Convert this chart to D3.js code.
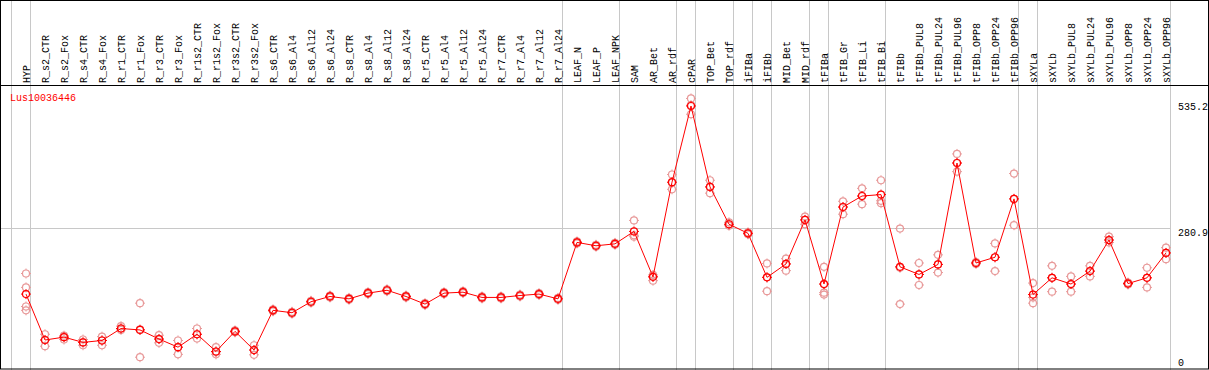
<!DOCTYPE html>
<html>
<head>
<meta charset="UTF-8">
<title>Lus10036446</title>
<script src="https://d3js.org/d3.v7.min.js"></script>
<style>
    body { margin: 0; padding: 0; background: #fff; }
    svg { display: block; }
    text { font-family: "Liberation Mono", "DejaVu Sans Mono", monospace; font-size: 10px; }
</style>
</head>
<body>
<div id="chart"></div>
<script>
const categories = ["HYP", "R_s2_CTR", "R_s2_Fox", "R_s4_CTR", "R_s4_Fox", "R_r1_CTR", "R_r1_Fox",
    "R_r3_CTR", "R_r3_Fox", "R_r1s2_CTR", "R_r1s2_Fox", "R_r3s2_CTR", "R_r3s2_Fox",
    "R_s6_CTR", "R_s6_Al4", "R_s6_Al12", "R_s6_Al24", "R_s8_CTR", "R_s8_Al4", "R_s8_Al12", "R_s8_Al24",
    "R_r5_CTR", "R_r5_Al4", "R_r5_Al12", "R_r5_Al24", "R_r7_CTR", "R_r7_Al4", "R_r7_Al12", "R_r7_Al24",
    "LEAF_N", "LEAF_P", "LEAF_NPK", "SAM", "AR_Bet", "AR_rdf", "cPAR", "TOP_Bet", "TOP_rdf",
    "iFIBa", "iFIBb", "MID_Bet", "MID_rdf", "tFIBa", "tFIB_Gr", "tFIB_Li", "tFIB_Bi", "tFIBb",
    "tFIBb_PUL8", "tFIBb_PUL24", "tFIBb_PUL96", "tFIBb_OPP8", "tFIBb_OPP24", "tFIBb_OPP96",
    "sXYLa", "sXYLb", "sXYLb_PUL8", "sXYLb_PUL24", "sXYLb_PUL96", "sXYLb_OPP8", "sXYLb_OPP24", "sXYLb_OPP96"];

const meanValues = [142, 46, 52, 41, 45, 70, 67, 48, 31, 58, 22, 64, 25,
    108, 103, 126, 137, 132, 144, 150, 137, 121, 144, 146, 135, 135, 139, 142, 132,
    250, 243, 247, 273, 178, 376, 535.2, 366, 288, 269, 177, 205, 297, 163, 324, 347, 350, 199,
    183, 204, 416, 207, 219, 341, 141, 176, 163, 190, 255, 164, 176, 228];

const replicates = [
    [185, 156, 116, 108], [58, 46, 33], [55, 52, 47], [47, 41, 35], [53, 45, 35], [75, 70, 67], [123, 68, 10],
    [56, 48, 40], [45, 31, 16], [70, 58, 49], [31, 21, 16], [66, 64, 62], [35, 25, 15],
    [110, 108, 106], [105, 103, 101], [128, 126, 124], [139, 137, 135], [134, 132, 130], [146, 144, 142],
    [152, 150, 148], [139, 137, 135], [123, 121, 119], [146, 144, 142], [148, 146, 144], [137, 135, 133],
    [137, 135, 133], [141, 139, 137], [144, 142, 140], [134, 132, 130],
    [252, 250, 248], [245, 243, 241], [249, 247, 245], [296, 262, 265], [182, 178, 170], [392, 375, 361],
    [551, 537, 518], [380, 366, 353], [292, 288, 285], [271, 269, 267], [206, 177, 148], [216, 205, 191],
    [304, 297, 288], [199, 145, 141, 163], [336, 324, 309], [363, 347, 330], [380, 337, 332], [279, 121, 197],
    [207, 183, 161], [224, 204, 187], [435, 416, 398], [209, 207, 205], [248, 219, 190], [394, 341, 286],
    [165, 135, 123], [201, 176, 147], [179, 163, 147], [201, 190, 179], [262, 255, 250], [166, 164, 162],
    [197, 176, 156], [239, 228, 215]];

// separators are drawn after these category indices (-1 = before the first one)
const groupEnds = [-1, 0, 28, 31, 34, 35, 37, 38, 39, 41, 42, 45, 52, 53, 60];
const yTicks = [0, 280.9, 535.2];
const geneName = "Lus10036446";

const width = 1209;
const height = 370;
const headerBottom = 85;

const svg = d3.select("#chart")
    .append("svg")
    .attr("width", width)
    .attr("height", height);

const x = d3.scalePoint()
    .domain(categories)
    .range([26, 1166]);

const y = d3.scaleLinear()
    .domain([0, 535.2])
    .range([362, 106]);

const step = x.step();
const sepX = i => x(categories[0]) + i * step + 4.5;

// vertical separators
svg.selectAll(".sep")
    .data(groupEnds)
    .enter().append("line")
    .attr("x1", d => sepX(d))
    .attr("x2", d => sepX(d))
    .attr("y1", 0)
    .attr("y2", height)
    .attr("stroke", "#c8c8c8")
    .attr("stroke-width", 1);

// horizontal grid line at the middle tick
svg.append("line")
    .attr("x1", 0)
    .attr("x2", sepX(categories.length - 1))
    .attr("y1", Math.round(y(yTicks[1])) + 0.5)
    .attr("y2", Math.round(y(yTicks[1])) + 0.5)
    .attr("stroke", "#c8c8c8");

// frame
svg.append("rect")
    .attr("x", 0.5).attr("y", 0.5)
    .attr("width", width - 1).attr("height", height - 1.5)
    .attr("fill", "none")
    .attr("stroke", "#000");
svg.append("line")
    .attr("x1", 0).attr("x2", width)
    .attr("y1", headerBottom + 0.5).attr("y2", headerBottom + 0.5)
    .attr("stroke", "#000");

// category labels
svg.selectAll(".cat")
    .data(categories)
    .enter().append("text")
    .attr("transform", d => `translate(${x(d) + 3.5},${headerBottom - 2})rotate(-90)`)
    .attr("fill", "#000")
    .text(d => d);

// y labels
svg.selectAll(".ylab")
    .data(yTicks)
    .enter().append("text")
    .attr("x", 1178)
    .attr("y", (d, i) => y(d) + (i === 1 ? 8 : 4))
    .attr("fill", "#000")
    .text(d => d === 0 ? "0" : d.toFixed(1));

svg.append("text")
    .attr("x", 10)
    .attr("y", 101)
    .attr("fill", "#ff0000")
    .text(geneName);

function marker(g, color) {
    g.append("circle")
        .attr("r", 3.5)
        .attr("fill", "none")
        .attr("stroke", color)
        .attr("stroke-width", 1.2);
    g.append("path")
        .attr("d", "M0,-5V-3.5M0,3.5V5M-5,0H-3.5M3.5,0H5")
        .attr("stroke", color)
        .attr("stroke-width", 1);
}

// replicate points
const reps = [];
replicates.forEach((vals, i) => vals.forEach(v => reps.push({ c: categories[i], v: v })));
svg.selectAll(".rep")
    .data(reps)
    .enter().append("g")
    .attr("transform", d => `translate(${x(d.c)},${y(d.v)})`)
    .each(function() { marker(d3.select(this), "#e89a9a"); });

// mean line
const line = d3.line()
    .x((d, i) => x(categories[i]))
    .y(d => y(d));
svg.append("path")
    .datum(meanValues)
    .attr("d", line)
    .attr("fill", "none")
    .attr("stroke", "#ff0000")
    .attr("stroke-width", 1);

svg.selectAll(".mean")
    .data(meanValues)
    .enter().append("g")
    .attr("transform", (d, i) => `translate(${x(categories[i])},${y(d)})`)
    .each(function() { marker(d3.select(this), "#ff0000"); });
</script>
</body>
</html>
